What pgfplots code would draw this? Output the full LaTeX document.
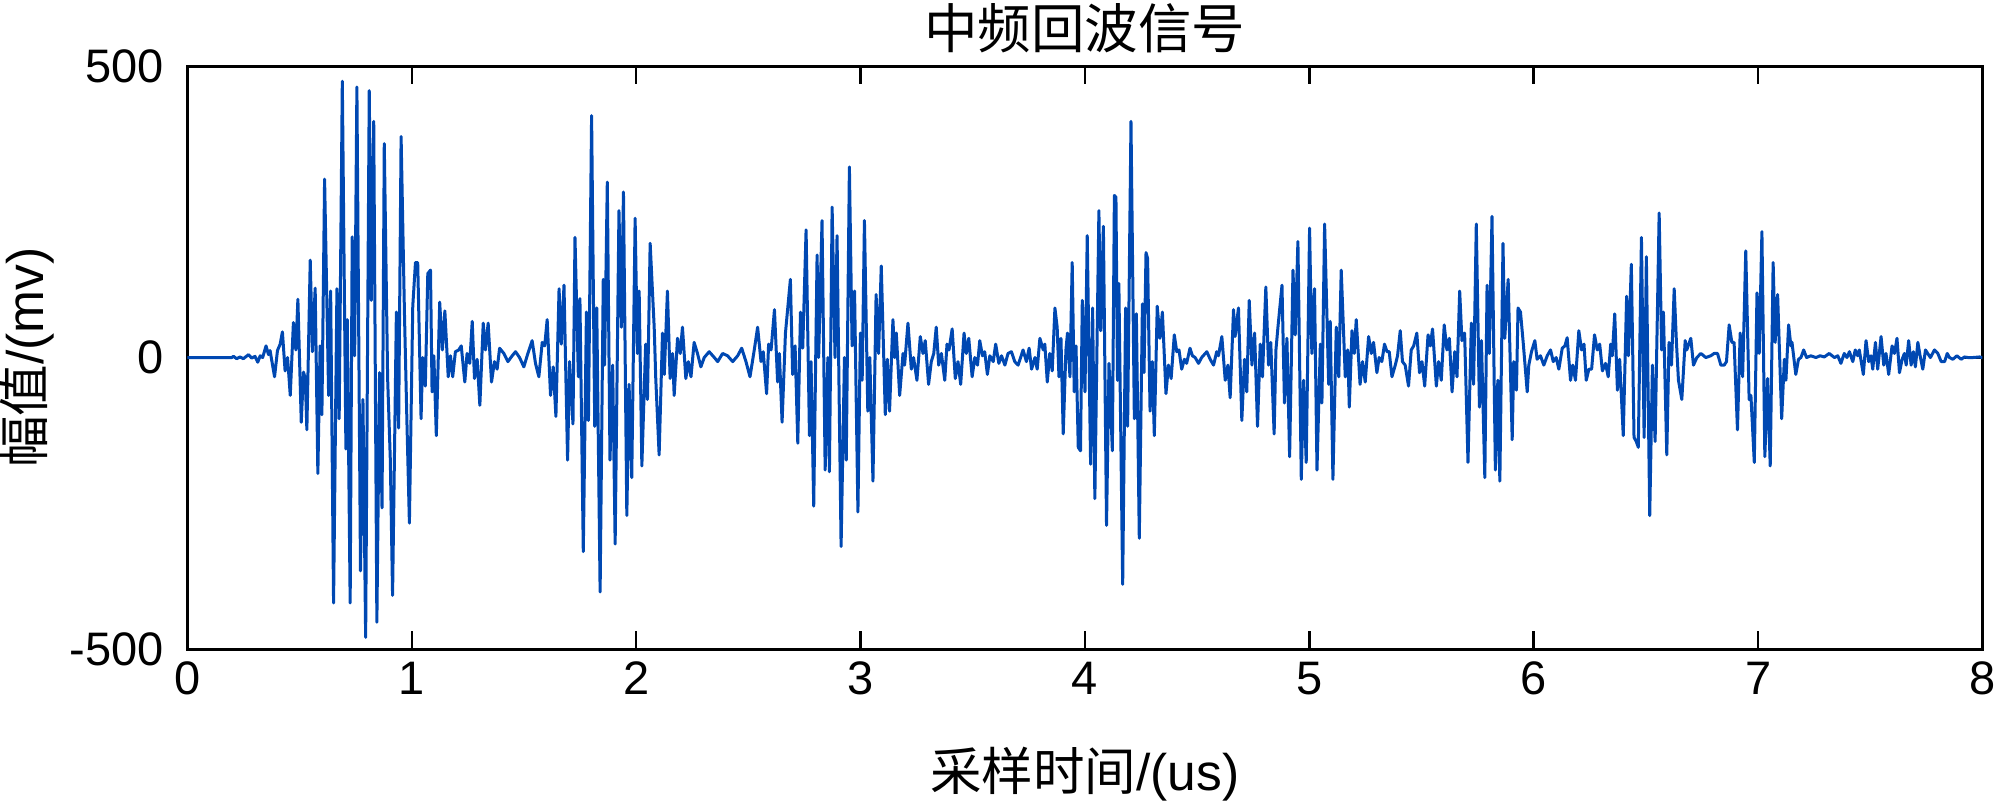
\documentclass[border=0pt]{standalone}
\usepackage{fontspec}
\setmainfont{Liberation Sans}
\newfontfamily\cjk{Noto Sans CJK SC}
\usepackage{pgfplots}
\pgfplotsset{compat=1.18}
\definecolor{sig}{RGB}{0,72,178}
\begin{document}
\begin{tikzpicture}
\path[use as bounding box] (-37.5pt,-32pt) rectangle (362.5pt,129.8pt);
\begin{axis}[
  at={(0pt,0pt)}, anchor=south west,
  scale only axis, width=359pt, height=116.6pt,
  xmin=0, xmax=8, ymin=-500, ymax=500,
  xtick={0,1,2,3,4,5,6,7,8}, xticklabels={0,1,2,3,4,5,6,7,8},
  ytick={-500,0,500}, yticklabels={-500,0,500},
  tick align=inside, major tick length=3.6pt,
  tick style={black, line width=0.5pt},
  axis line style={black, line width=0.6pt},
  xticklabel style={font=\fontsize{9.4}{11}\selectfont, inner sep=0pt, anchor=north, yshift=-2.4pt},
  yticklabel style={font=\fontsize{9.4}{11}\selectfont, inner sep=0pt, anchor=east, xshift=-4.5pt},
  title={{\cjk 中频回波信号}},
  title style={at={(axis description cs:0.5,1.0583)}, anchor=center, yshift=-5.2pt, font=\fontsize{10.7}{12}\selectfont, inner sep=0pt},
  xlabel={{\cjk 采样时间}/(us)},
  xlabel style={at={(axis description cs:0.5,-0.2153)}, anchor=center, font=\fontsize{10.3}{12}\selectfont, inner sep=0pt},
  ylabel={{\cjk 幅值}/(mv)},
  ylabel style={at={(axis description cs:-0.0891,0.5)}, anchor=center, rotate=0, font=\fontsize{10.3}{12}\selectfont, inner sep=0pt},
]
\addplot[sig, line width=0.6pt, line join=round, mark=none] coordinates {
(0,0) (0.197,0) (0.205,2) (0.219,-2) (0.234,1) (0.249,-2) (0.272,5) (0.286,-1) (0.301,2) (0.313,-8) (0.324,3) (0.335,0) (0.350,20) (0.361,5) (0.368,12) (0.388,-33) (0.401,12) (0.413,23) (0.423,44) (0.435,-23) (0.446,0) (0.458,-65) (0.472,60) (0.483,13) (0.492,100) (0.507,-111) (0.517,-25) (0.525,-36) (0.532,-124) (0.547,167) (0.557,10) (0.569,119) (0.581,-199) (0.591,20) (0.599,-98) (0.611,306) (0.629,-65) (0.638,114) (0.651,-421) (0.666,118) (0.676,-105) (0.690,474) (0.706,-157) (0.712,65) (0.725,-421) (0.734,207) (0.745,3) (0.755,464) (0.771,-366) (0.782,-72) (0.794,-480) (0.810,458) (0.819,98) (0.830,405) (0.844,-454) (0.856,-26) (0.867,-258) (0.877,367) (0.892,-36) (0.904,-176) (0.914,-408) (0.931,78) (0.941,-121) (0.952,379) (0.967,75) (0.978,-111) (0.989,-284) (1.004,88) (1.016,163) (1.026,163) (1.041,-105) (1.048,0) (1.060,-49) (1.071,144) (1.083,150)
(1.090,-59) (1.098,3) (1.109,-134) (1.124,95) (1.136,13) (1.147,80) (1.162,-33) (1.172,3) (1.182,-33) (1.194,10) (1.209,13) (1.220,20) (1.236,-42) (1.246,7) (1.258,-10) (1.269,62) (1.279,-36) (1.291,-3) (1.303,-82) (1.318,59) (1.328,13) (1.340,59) (1.355,-42) (1.368,-7) (1.380,-20) (1.391,16) (1.410,7) (1.428,-7) (1.447,3) (1.462,10) (1.480,0) (1.499,-16) (1.517,7) (1.536,29) (1.551,-10) (1.566,-33) (1.581,26) (1.592,20) (1.603,65) (1.618,-65) (1.630,-16) (1.642,-101) (1.656,118) (1.666,23) (1.678,124) (1.694,-176) (1.703,-7) (1.718,-114) (1.727,206) (1.742,-33) (1.749,101) (1.764,-333) (1.778,78) (1.787,-108) (1.801,415) (1.815,-118) (1.824,85) (1.839,-402) (1.853,134) (1.859,-13) (1.871,301) (1.883,-176) (1.895,-13) (1.906,-320) (1.923,252) (1.934,52) (1.943,284) (1.958,-271) (1.968,-46) (1.980,-206) (1.995,239) (2.005,7) (2.013,114) (2.025,-186) (2.042,23) (2.050,-72) (2.062,196)
(2.080,52) (2.087,-36) (2.102,-167) (2.117,42) (2.125,-29) (2.139,114) (2.151,-36) (2.162,7) (2.169,-65) (2.184,33) (2.196,7) (2.206,52) (2.221,-36) (2.232,-7) (2.244,-33) (2.258,26) (2.273,7) (2.288,-16) (2.303,0) (2.325,10) (2.348,0) (2.363,-7) (2.385,7) (2.407,3) (2.430,-7) (2.452,3) (2.470,16) (2.489,-7) (2.507,-33) (2.526,13) (2.541,52) (2.556,-7) (2.566,10) (2.581,-62) (2.590,23) (2.601,13) (2.616,82) (2.630,-42) (2.638,7) (2.650,-111) (2.665,42) (2.687,134) (2.697,-29) (2.708,20) (2.720,-147) (2.732,78) (2.742,16) (2.757,219) (2.772,-134) (2.779,-7) (2.791,-255) (2.806,176) (2.813,0) (2.828,235) (2.842,-193) (2.854,0) (2.861,-196) (2.873,258) (2.886,0) (2.895,209) (2.913,-324) (2.928,0) (2.936,-176) (2.950,327) (2.962,20) (2.973,114) (2.988,-265) (2.999,42) (3.007,-39) (3.017,235) (3.032,-92) (3.041,0) (3.055,-212) (3.069,108) (3.080,7) (3.092,157)
(3.110,-98) (3.119,-3) (3.129,-92) (3.144,65) (3.152,0) (3.159,42) (3.174,-65) (3.189,7) (3.196,-13) (3.211,59) (3.226,-20) (3.236,0) (3.251,-39) (3.266,36) (3.278,7) (3.288,29) (3.303,-46) (3.315,-7) (3.326,7) (3.337,52) (3.348,-13) (3.360,7) (3.375,-39) (3.385,23) (3.394,13) (3.408,49) (3.422,-36) (3.434,-7) (3.446,-46) (3.461,42) (3.471,7) (3.482,33) (3.497,-33) (3.509,0) (3.521,-13) (3.531,29) (3.543,3) (3.553,10) (3.565,-29) (3.576,3) (3.591,-7) (3.602,23) (3.616,-10) (3.628,3) (3.643,-13) (3.657,7) (3.672,10) (3.687,-7) (3.702,-13) (3.724,13) (3.739,-7) (3.751,16) (3.762,-20) (3.777,0) (3.787,-20) (3.799,33) (3.814,13) (3.821,23) (3.832,-42) (3.843,7) (3.854,-23) (3.866,85) (3.876,52) (3.884,-33) (3.893,33) (3.903,-131) (3.915,13) (3.922,42) (3.933,-33) (3.943,163) (3.952,-59) (3.960,20) (3.970,-154) (3.980,-160) (3.988,98) (4.000,-59) (4.010,209) (4.025,-183) (4.034,85) (4.044,-242) (4.062,252) (4.070,46) (4.082,225)
(4.096,-288) (4.107,-10) (4.122,-160) (4.131,278) (4.138,275) (4.145,-39) (4.151,127) (4.168,-389) (4.181,85) (4.190,-118) (4.205,405) (4.220,-105) (4.229,75) (4.242,-310) (4.256,92) (4.263,-26) (4.272,180) (4.279,170) (4.290,-92) (4.300,-7) (4.309,-134) (4.322,88) (4.334,33) (4.345,78) (4.361,-62) (4.372,-13) (4.384,-36) (4.398,39) (4.409,10) (4.419,13) (4.431,-20) (4.443,-3) (4.453,-10) (4.468,16) (4.479,3) (4.491,0) (4.506,-10) (4.520,0) (4.543,10) (4.558,-3) (4.573,-13) (4.587,10) (4.595,3) (4.610,36) (4.625,-39) (4.637,-13) (4.647,-69) (4.662,82) (4.669,36) (4.684,85) (4.699,-108) (4.711,-3) (4.721,-59) (4.732,98) (4.744,-13) (4.756,42) (4.769,-118) (4.781,23) (4.791,-33) (4.806,121) (4.818,-13) (4.828,26) (4.843,-131) (4.851,13) (4.860,52) (4.878,124) (4.889,-78) (4.900,33) (4.912,-170) (4.927,150) (4.937,39) (4.949,199) (4.964,-209) (4.974,-39) (4.986,-180) (5.001,222) (5.011,7) (5.023,118) (5.034,-193) (5.049,23) (5.056,-78) (5.068,229) (5.086,-46) (5.093,62) (5.105,-209) (5.120,52) (5.131,-33) (5.142,150) (5.160,-33) (5.171,13) (5.178,-85) (5.190,46)
(5.200,7) (5.209,65) (5.226,-46) (5.237,-7) (5.249,-42) (5.264,36) (5.276,7) (5.286,26) (5.301,-26) (5.311,0) (5.323,-7) (5.335,23) (5.346,10) (5.356,10) (5.368,-33) (5.383,-13) (5.393,3) (5.405,46) (5.415,-7) (5.427,-13) (5.442,-49) (5.454,13) (5.465,20) (5.479,42) (5.491,-26) (5.502,-7) (5.514,-49) (5.529,39) (5.539,20) (5.549,49) (5.566,-49) (5.576,-7) (5.588,-39) (5.601,56) (5.613,13) (5.624,33) (5.636,-59) (5.648,10) (5.658,-33) (5.670,114) (5.680,29) (5.692,42) (5.707,-180) (5.722,59) (5.732,-46) (5.744,229) (5.758,-85) (5.767,29) (5.782,-206) (5.792,124) (5.802,7) (5.814,242) (5.829,-193) (5.840,-39) (5.849,-212) (5.863,196) (5.871,33) (5.886,134) (5.904,-141) (5.911,-7) (5.923,-56) (5.930,85) (5.941,78) (5.953,26) (5.971,-59) (5.978,-13) (5.990,10) (6.005,29) (6.015,-3) (6.030,3) (6.045,-13) (6.060,3) (6.075,13) (6.087,-7) (6.100,0) (6.112,-20) (6.127,16) (6.139,20) (6.149,34) (6.164,-39) (6.174,-13) (6.186,-39) (6.201,46)
(6.213,13) (6.224,23) (6.234,-39) (6.246,-20) (6.258,-20) (6.271,39) (6.283,13) (6.294,23) (6.306,-23) (6.320,-10) (6.332,-33) (6.343,23) (6.350,3) (6.361,75) (6.373,-56) (6.383,-3) (6.399,-134) (6.414,105) (6.422,3) (6.435,160) (6.447,-137) (6.457,-144) (6.466,-154) (6.480,206) (6.492,-137) (6.502,173) (6.517,-271) (6.529,-13) (6.541,-144) (6.559,248) (6.570,13) (6.578,78) (6.593,-167) (6.603,26) (6.614,-13) (6.626,118) (6.636,26) (6.645,-39) (6.660,-72) (6.675,29) (6.682,13) (6.700,33) (6.712,-13) (6.727,0) (6.745,7) (6.767,0) (6.789,3) (6.804,7) (6.819,7) (6.834,-13) (6.849,-13) (6.859,-7) (6.871,56) (6.883,26) (6.893,26) (6.908,-124) (6.920,42) (6.931,-33) (6.945,183) (6.960,-72) (6.968,-65) (6.983,-180) (6.995,111) (7.005,7) (7.017,216) (7.030,-170) (7.042,-36) (7.054,-186) (7.067,163) (7.076,26) (7.087,108) (7.105,-105) (7.117,-3) (7.124,-39) (7.136,56)
(7.146,20) (7.151,26) (7.168,-29) (7.180,-3) (7.191,0) (7.203,13) (7.216,0) (7.235,3) (7.258,0) (7.276,3) (7.295,1) (7.317,7) (7.340,0) (7.355,3) (7.369,-10) (7.384,7) (7.396,0) (7.407,10) (7.422,-7) (7.433,13) (7.444,3) (7.451,13) (7.469,-29) (7.481,29) (7.493,-7) (7.503,3) (7.511,-20) (7.523,26) (7.533,-20) (7.548,36) (7.560,-13) (7.570,7) (7.582,-29) (7.597,20) (7.608,7) (7.619,33) (7.630,-26) (7.642,-3) (7.652,7) (7.660,-13) (7.671,29) (7.682,-13) (7.692,10) (7.701,-16) (7.712,26) (7.722,3) (7.734,-20) (7.746,13) (7.756,7) (7.768,0) (7.786,13) (7.801,7) (7.816,-7) (7.831,-7) (7.843,7) (7.853,0) (7.868,-3) (7.886,3) (7.905,-3) (7.920,1) (7.935,0) (7.957,0) (7.987,1) (8.000,0)
};
\end{axis}
\end{tikzpicture}
\end{document}
